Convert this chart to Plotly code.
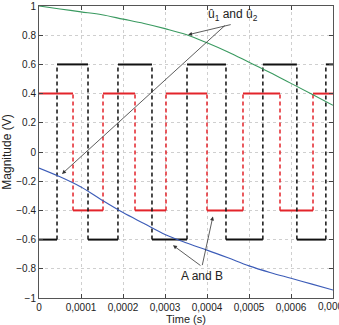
import plotly.graph_objects as go

# ---- data ----
time_s = [0, 0.00005, 0.0001, 0.00015, 0.0002, 0.00025, 0.0003, 0.00035,
          0.0004, 0.00045, 0.0005, 0.00055, 0.0006, 0.00065, 0.0007]
u1_green = [1.0, 0.98, 0.96, 0.94, 0.91, 0.88, 0.845, 0.805,
            0.748, 0.685, 0.615, 0.545, 0.47, 0.395, 0.32]
u2_blue = [-0.11, -0.17, -0.24, -0.33, -0.415, -0.49, -0.565, -0.622,
           -0.672, -0.725, -0.78, -0.825, -0.865, -0.905, -0.945]

# square wave A (red): switching instants and levels
a_switch = [0, 0.000081, 0.0001524, 0.0002286, 0.0003024, 0.0004,
            0.0004857, 0.0005738, 0.0006524, 0.0007]
a_levels = [0.4, -0.4, 0.4, -0.4, 0.4, -0.4, 0.4, -0.4, 0.4]

# square wave B (black)
b_switch = [0, 0.0000429, 0.0001167, 0.000188, 0.000269, 0.0003524,
            0.0004452, 0.000533, 0.000614, 0.000683, 0.0007]
b_levels = [-0.6, 0.6, -0.6, 0.6, -0.6, 0.6, -0.6, 0.6, -0.6, 0.6]

x_tickvals = [0, 0.0001, 0.0002, 0.0003, 0.0004, 0.0005, 0.0006, 0.0007]
x_ticktext = ["0", "0,0001", "0,0002", "0,0003", "0,0004", "0,0005", "0,0006", "0,0007"]
y_tickvals = [-1, -0.8, -0.6, -0.4, -0.2, 0, 0.2, 0.4, 0.6, 0.8, 1]
y_ticktext = ["\u22121", "\u22120.8", "\u22120.6", "\u22120.4", "\u22120.2", "0",
              "0.2", "0.4", "0.6", "0.8", "1"]

RED = "#e3242b"
BLACK = "#111111"
GREEN = "#3a9a60"
BLUE = "#3c5cb8"


def square_parts(switch, levels):
    hx, hy, vx, vy = [], [], [], []
    for i, lv in enumerate(levels):
        hx += [switch[i], switch[i + 1], None]
        hy += [lv, lv, None]
    amp = abs(levels[0])
    for t in switch[1:-1]:
        vx += [t, t, None]
        vy += [-amp, amp, None]
    return hx, hy, vx, vy


fig = go.Figure()
for sw, lv, col in [(a_switch, a_levels, RED), (b_switch, b_levels, BLACK)]:
    hx, hy, vx, vy = square_parts(sw, lv)
    fig.add_trace(go.Scatter(x=vx, y=vy, mode="lines",
                             line=dict(color=col, width=1.5, dash="4px,3px"),
                             hoverinfo="skip"))
    fig.add_trace(go.Scatter(x=hx, y=hy, mode="lines",
                             line=dict(color=col, width=2), hoverinfo="skip"))

fig.add_trace(go.Scatter(x=time_s, y=u1_green, mode="lines",
                         line=dict(color=GREEN, width=1.1, shape="spline")))
fig.add_trace(go.Scatter(x=time_s, y=u2_blue, mode="lines",
                         line=dict(color=BLUE, width=1.1, shape="spline")))

FONT = "Liberation Sans, Arial, sans-serif"
arrow_col = "#333333"


def arrow(x, y, ax, ay):
    fig.add_annotation(x=x, y=y, ax=ax, ay=ay, xref="x", yref="y",
                       axref="x", ayref="y", text="", showarrow=True,
                       arrowhead=2, arrowsize=1, arrowwidth=0.8,
                       arrowcolor=arrow_col)


# u1/u2 annotation
fig.add_annotation(x=0.000462, y=0.94, xref="x", yref="y",
                   text="\u00fb<sub>1</sub> and \u00fb<sub>2</sub>",
                   showarrow=False, font=dict(family=FONT, size=12, color="#222"))
arrow(0.000355, 0.803, 0.00046, 0.875)
arrow(0.0000548, -0.15, 0.000446, 0.875)

# A and B annotation
fig.add_annotation(x=0.000388, y=-0.85, xref="x", yref="y",
                   text="A and B", showarrow=False,
                   font=dict(family=FONT, size=12, color="#222"))
arrow(0.000414, -0.442, 0.000388, -0.785)
arrow(0.000319, -0.639, 0.000388, -0.785)

# last x tick label (clipped by the page edge, as in the original)
fig.add_annotation(x=x_tickvals[-1], y=0, xref="x", yref="paper",
                   text=x_ticktext[-1], showarrow=False, yanchor="top",
                   yshift=-1, font=dict(family=FONT, size=10, color="#222"))
# x axis title
fig.add_annotation(x=0.5, y=0, xref="paper", yref="paper",
                   text="Time (s)", showarrow=False, yanchor="top",
                   yshift=-13, font=dict(family=FONT, size=11, color="#222"))

fig.update_layout(
    width=339, height=325,
    margin=dict(l=39, r=6, t=6, b=27),
    paper_bgcolor="white", plot_bgcolor="white",
    showlegend=False,
    font=dict(family=FONT, size=10, color="#222"),
)
fig.update_xaxes(
    range=[0, 0.0007], tickvals=x_tickvals[:-1], ticktext=x_ticktext[:-1],
    ticks="inside", ticklen=4, tickcolor="#444",
    showline=True, linecolor="#555", linewidth=1, mirror="ticks",
    showgrid=True, gridcolor="#cfcfcf", griddash="dot", gridwidth=1,
    zeroline=False, automargin=False,
)
fig.update_yaxes(
    range=[-1, 1], tickvals=y_tickvals, ticktext=y_ticktext,
    ticks="inside", ticklen=4, tickcolor="#444",
    showline=True, linecolor="#555", linewidth=1, mirror="ticks",
    showgrid=True, gridcolor="#cfcfcf", griddash="dot", gridwidth=1,
    zeroline=False, automargin=False,
    title=dict(text="Magnitude (V)", font=dict(size=12), standoff=2),
)

fig.write_html("out.html")
